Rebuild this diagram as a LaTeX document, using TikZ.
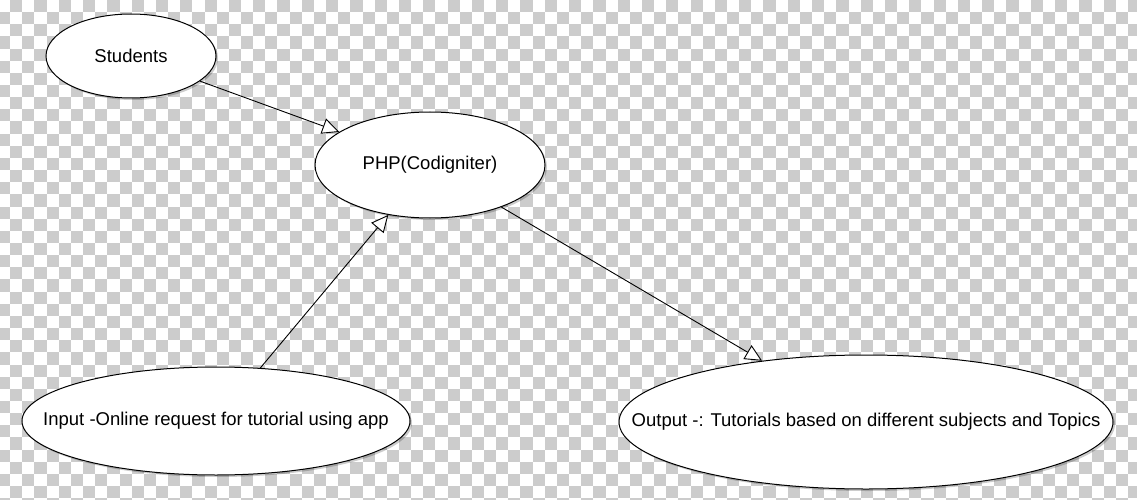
\documentclass[tikz,border=0pt]{standalone}
\usepackage{fontspec}
\setmainfont{Liberation Sans}
\usetikzlibrary{shapes.geometric,arrows.meta,shadows}
\definecolor{cellgray}{HTML}{CCCCCC}
\newcommand{\uctext}[1]{\makebox[0pt]{#1}}
\begin{document}
\begin{tikzpicture}[x=1pt,y=-1pt,
  usecase/.style={ellipse, draw, line width=1pt, fill=white, inner sep=0pt,
    font=\fontsize{18.5}{20}\selectfont,
    drop shadow={shadow xshift=2pt, shadow yshift=-2pt, fill=black, opacity=0.2}},
  flow/.style={draw, line width=0.9pt, -{Triangle[open, fill=white, length=17pt, width=16pt]}}]
\useasboundingbox (0,0) rectangle (1137,500);
\fill[white] (0,0) rectangle (1137,500);
\foreach \i in {0,...,94} \foreach \j in {0,...,20} {
  \pgfmathsetmacro\xx{-2+12.15*\i}
  \pgfmathsetmacro\yy{12.15*(2*\j+mod(\i+1,2))}
  \fill[cellgray] (\xx,\yy) rectangle +(12.15,12.15);
}
\node[usecase, minimum width=170pt, minimum height=84pt] (stu) at (131,56) {\uctext{Students}};
\node[usecase, minimum width=230pt, minimum height=106pt] (php) at (430,165) {\uctext{PHP(Codigniter)}};
\node[usecase, minimum width=388pt, minimum height=108pt] (inp) at (216,421) {\uctext{Input -Online request for tutorial using app}};
\node[usecase, minimum width=494pt, minimum height=134pt] (out) at (866,422) {\uctext{Output -: Tutorials based on different subjects and Topics}};
\draw[flow] (stu) -- (php);
\draw[flow] (inp) -- (php);
\draw[flow] (php) -- (out);
\end{tikzpicture}
\end{document}
